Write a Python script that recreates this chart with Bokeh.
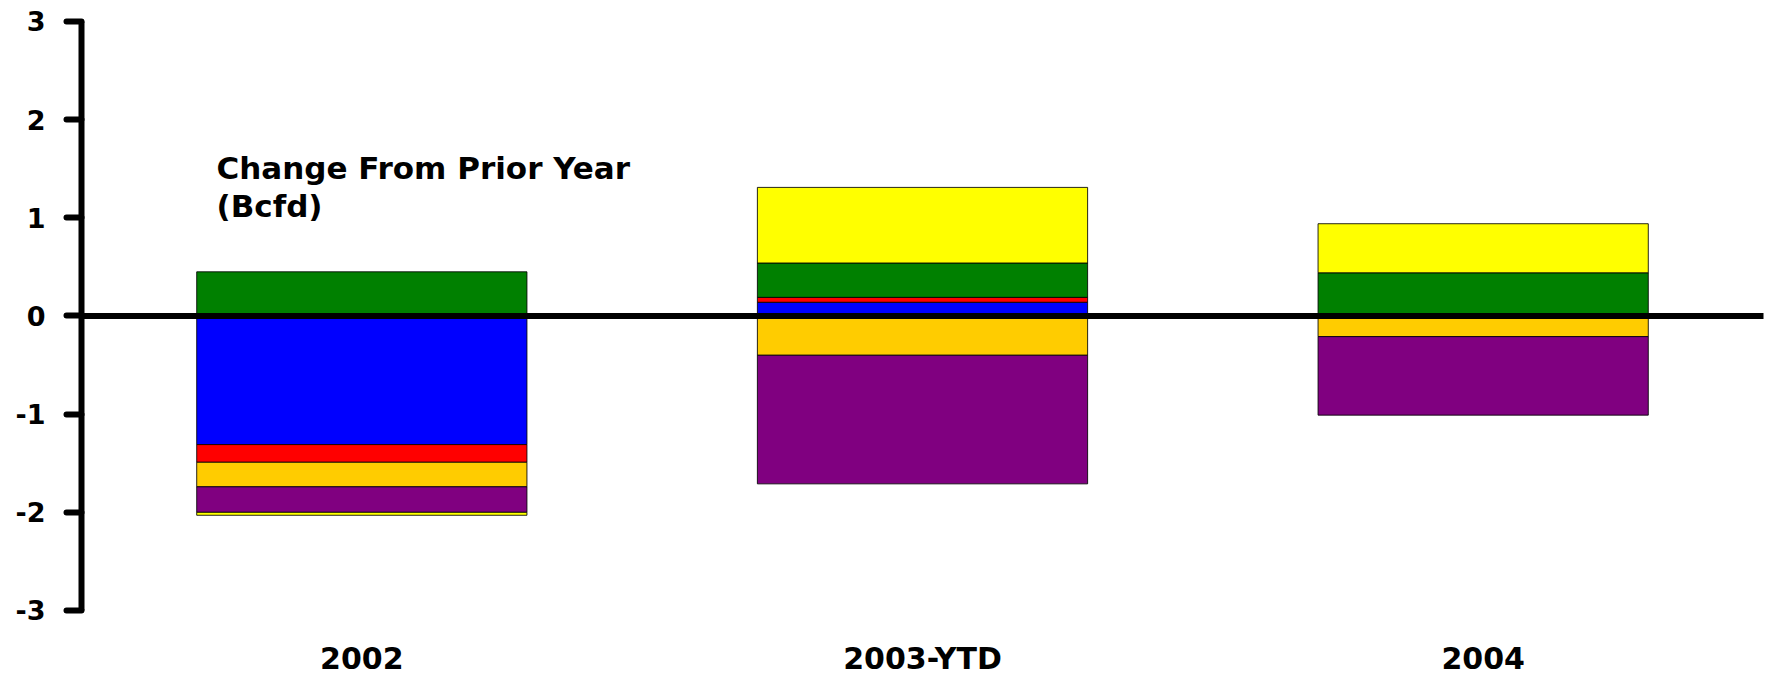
import numpy as np
from bokeh.plotting import figure
from bokeh.models import FixedTicker, Span, Label, Range1d, FactorRange, ColumnDataSource
from bokeh.embed import file_html
from bokeh.resources import INLINE
from bokeh.core.properties import value

# ---------------- data ----------------
categories = ["2002", "2003-YTD", "2004"]
blue_series = [-1.31, 0.14, 0.0]
red_series = [-0.18, 0.05, 0.0]
green_series = [0.45, 0.35, 0.44]
gold_series = [-0.25, -0.40, -0.21]
purple_series = [-0.26, -1.31, -0.80]
yellow_series = [-0.03, 0.77, 0.50]
y_ticks = [-3, -2, -1, 0, 1, 2, 3]
title_lines = ["Change From Prior Year", "(Bcfd)"]

series = [
    (blue_series, "#0000FF"),
    (red_series, "#FF0000"),
    (green_series, "#008000"),
    (gold_series, "#FFCC00"),
    (purple_series, "#800080"),
    (yellow_series, "#FFFF00"),
]

# ---------------- figure ----------------
W, H = 1770, 679
p = figure(
    width=W, height=H,
    x_range=FactorRange(*categories),
    y_range=Range1d(-3.7029, 3.2139),
    output_backend="svg", toolbar_location=None,
    x_axis_location=None,
    min_border_left=81, min_border_right=7, min_border_top=0, min_border_bottom=0,
    background_fill_color="white", border_fill_color="white",
)
p.outline_line_color = None
p.xgrid.grid_line_color = None
p.ygrid.grid_line_color = None

# stacked bars (positives and negatives stacked separately)
pos = np.zeros(len(categories))
neg = np.zeros(len(categories))
for vals, color in series:
    v = np.array(vals, dtype=float)
    bottom = np.where(v >= 0, pos, neg + v)
    top = np.where(v >= 0, pos + v, neg)
    pos = pos + np.clip(v, 0, None)
    neg = neg + np.clip(v, None, 0)
    mask = v != 0
    src = ColumnDataSource(dict(
        x=[c for c, m in zip(categories, mask) if m],
        bottom=bottom[mask], top=top[mask],
    ))
    p.vbar(x="x", bottom="bottom", top="top", width=0.589, source=src,
           fill_color=color, line_color="black", line_width=1, line_alpha=0.85)

# zero line
p.add_layout(Span(location=0, dimension="width", line_color="black",
                  line_width=6, line_cap="round"))

# y axis
ax = p.yaxis[0]
ax.ticker = FixedTicker(ticks=y_ticks)
ax.bounds = (-3, 3)
ax.axis_line_color = "black"
ax.axis_line_width = 6
ax.major_tick_line_color = "black"
ax.major_tick_line_width = 6
ax.major_tick_line_cap = "round"
ax.major_tick_out = 15
ax.major_tick_in = 0
ax.minor_tick_line_color = None
ax.major_label_text_font = "DejaVu Sans"
ax.major_label_text_font_style = "bold"
ax.major_label_text_font_size = "27px"
ax.major_label_text_color = "black"
ax.major_label_standoff = 21
ax.major_label_overrides = {t: str(t) for t in y_ticks}

# category labels
p.text(x=categories, y=-3.485, text=categories, text_align="center",
       text_baseline="alphabetic", text_font=value("DejaVu Sans"),
       text_font_style="bold", text_font_size="30px", text_color="black")

# title text block
for line, ypos in zip(title_lines, [1.508, 1.121]):
    p.add_layout(Label(x=0.2408, y=ypos, x_units="data", y_units="data", text=line,
                       text_font="DejaVu Sans", text_font_style="bold",
                       text_font_size="31px", text_color="black",
                       text_baseline="alphabetic", text_align="left"))

open("out.html", "w").write(file_html(p, INLINE))
